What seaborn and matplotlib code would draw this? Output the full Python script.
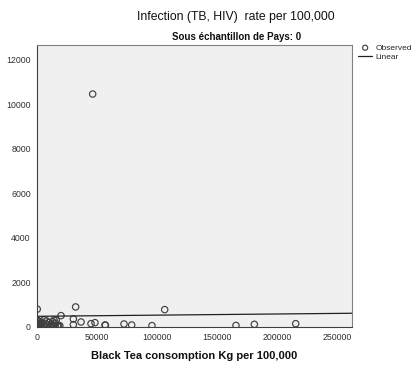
import matplotlib
matplotlib.use("Agg")
import matplotlib.pyplot as plt
import seaborn as sns
import numpy as np
import pandas as pd

# Observed data (Black Tea consumption Kg per 100,000 vs Infection rate per 100,000)
tea = [500, 1000, 1500, 2000, 2500, 3000, 3500, 4000, 5000, 6000, 6500, 7000,
       8000, 9000, 10000, 11000, 12000, 12500, 13000, 14000, 14200, 15000, 15500,
       16000, 17000, 18000, 19000, 800, 200,
       20000, 30300, 30300, 32200, 36700, 45000, 48300, 56700, 57000, 72500,
       78900, 95800, 106400, 46400, 165800, 181100, 215600]
infection = [300, 180, 90, 250, 60, 140, 20, 220, 100, 320, 40, 160,
             270, 90, 200, 50, 130, 20, 240, 70, 310, 30, 170,
             300, 50, 40, 60, 150, 800,
             510, 360, 105, 900, 225, 150, 195, 90, 80, 135,
             90, 60, 780, 10450, 70, 120, 150]

# Linear fit
fit_intercept = 480
fit_slope = 0.00052

x_ticks = [0, 50000, 100000, 150000, 200000, 250000]
y_ticks = [0, 2000, 4000, 6000, 8000, 10000, 12000]
x_max = 262500
y_max = 12650

df = pd.DataFrame({"tea": tea, "infection": infection})
line_x = [0, x_max]
line_df = pd.DataFrame({"x": line_x,
                        "y": [fit_intercept + fit_slope * v for v in line_x]})

sns.set_style("white")
plt.rcParams['font.family'] = ['Liberation Sans', 'DejaVu Sans']

fig = plt.figure(figsize=(4.16, 3.67), dpi=100)
ax = fig.add_axes([37/416, 1 - 327/367, (352-37)/416, (327-45)/367])
ax.set_facecolor("#F0F0F0")

sns.scatterplot(data=df, x="tea", y="infection", ax=ax, marker="o",
                facecolor="none", edgecolor="#404040", linewidth=0.85, s=21,
                label="Observed")
sns.lineplot(data=line_df, x="x", y="y", ax=ax, color="#202020",
             linewidth=0.9, label="Linear")

ax.set_xlim(0, x_max)
ax.set_ylim(0, y_max)
ax.set_xticks(x_ticks)
ax.set_yticks(y_ticks)
ax.set_xticklabels([str(t) for t in x_ticks])
ax.set_yticklabels([str(t) for t in y_ticks])
ax.tick_params(axis="both", labelsize=6.3, colors="#303030", length=3,
               width=0.6, direction="out", pad=1.5)
for sp in ax.spines.values():
    sp.set_color("#808080")
    sp.set_linewidth(0.8)
ax.spines["left"].set_color("#404040")
ax.spines["bottom"].set_color("#404040")

ax.set_xlabel("Black Tea consomption Kg per 100,000", fontsize=8,
              fontweight="bold", labelpad=6, color="#101010")
ax.set_ylabel("")

fig.text(236/416, 1 - 17/367, "Infection (TB, HIV)  rate per 100,000",
         ha="center", va="center", fontsize=8.8, color="#101010")
fig.text(237/416, 1 - 37/367, "Sous échantillon de Pays: 0",
         ha="center", va="center", fontsize=7.0, fontweight="bold",
         color="#101010")

leg = ax.legend(loc="upper left", bbox_to_anchor=(1.01, 1.015), frameon=False,
                fontsize=6, handlelength=1.6, handletextpad=0.4,
                labelspacing=0.1, borderaxespad=0, markerscale=0.8)

fig.savefig("out.png", dpi=100)
